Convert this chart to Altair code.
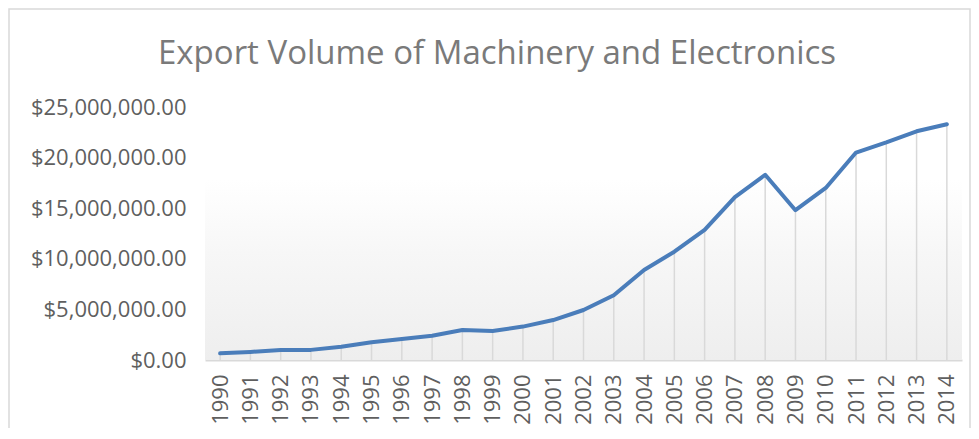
import altair as alt
import pandas as pd

years = [str(y) for y in range(1990, 2015)]
values = [660000, 800000, 1000000, 1000000, 1300000, 1750000, 2070000, 2400000,
          2960000, 2870000, 3300000, 3950000, 4940000, 6400000, 8900000, 10700000,
          12850000, 16100000, 18300000, 14800000, 17000000, 20500000, 21500000,
          22600000, 23300000]
y_ticks = [0, 5000000, 10000000, 15000000, 20000000, 25000000]
wall_top = 17800000
title_text = "Export Volume of Machinery and Electronics"

df = pd.DataFrame({"year": years, "value": values})

FONT = "Open Sans"
LABEL = "#5f5f5f"

x_enc = alt.X("year:O", sort=years,
              scale=alt.Scale(type="point", padding=0.5),
              axis=alt.Axis(title=None, labelAngle=270, labelAlign="right",
                            labelBaseline="middle", labelPadding=14, ticks=False,
                            domain=True, domainColor="#d9d9d9", domainWidth=2,
                            labelFont=FONT, labelFontSize=22, labelColor=LABEL,
                            grid=False))
y_scale = alt.Scale(domain=[0, 25000000], nice=False)

base = alt.Chart(df)

wall = base.mark_rect(
    fill=alt.Gradient(gradient="linear",
                      stops=[alt.GradientStop(color="#ffffff", offset=0),
                             alt.GradientStop(color="#f7f7f7", offset=0.4),
                             alt.GradientStop(color="#eeeeee", offset=1)],
                      x1=0, x2=0, y1=0, y2=1)
).encode(
    x=alt.value(0), x2=alt.value("width"),
    y=alt.datum(wall_top, scale=y_scale), y2=alt.datum(0)
).transform_filter(alt.datum.year == "1990")

drops = base.mark_rule(color="#d9d9d9", strokeWidth=1.5).encode(
    x=x_enc,
    y=alt.Y("value:Q", scale=y_scale,
            axis=alt.Axis(title=None, values=y_ticks, format="$,.2f", domain=False,
                          ticks=False, grid=False, labelPadding=19, labelFont=FONT,
                          labelFontSize=22, labelColor=LABEL)),
    y2=alt.datum(0)
)

line = base.mark_line(color="#4a7dba", strokeWidth=4, strokeCap="round",
                      strokeJoin="round").encode(
    x=x_enc, y=alt.Y("value:Q", scale=y_scale)
)

border = base.mark_rect(fill=None, stroke="#d9d9d9", strokeWidth=1.5).encode(
    x=alt.value(-196), x2=alt.value(765), y=alt.value(-98), y2=alt.value(330)
).transform_filter(alt.datum.year == "1990")

title = base.mark_text(font=FONT, fontSize=33, color="#7a7a7a", align="center",
                       baseline="alphabetic").encode(
    x=alt.value(292), y=alt.value(-43), text=alt.value(title_text)
).transform_filter(alt.datum.year == "1990")

chart = alt.layer(border, wall, drops, line, title).properties(
    width=757, height=253,
    autosize=alt.AutoSizeParams(type="none"),
    padding={"left": 197, "top": 99, "right": 9, "bottom": 68},
).configure_view(stroke=None)

chart.save("out.html", embed_options={"renderer": "svg", "actions": False})
